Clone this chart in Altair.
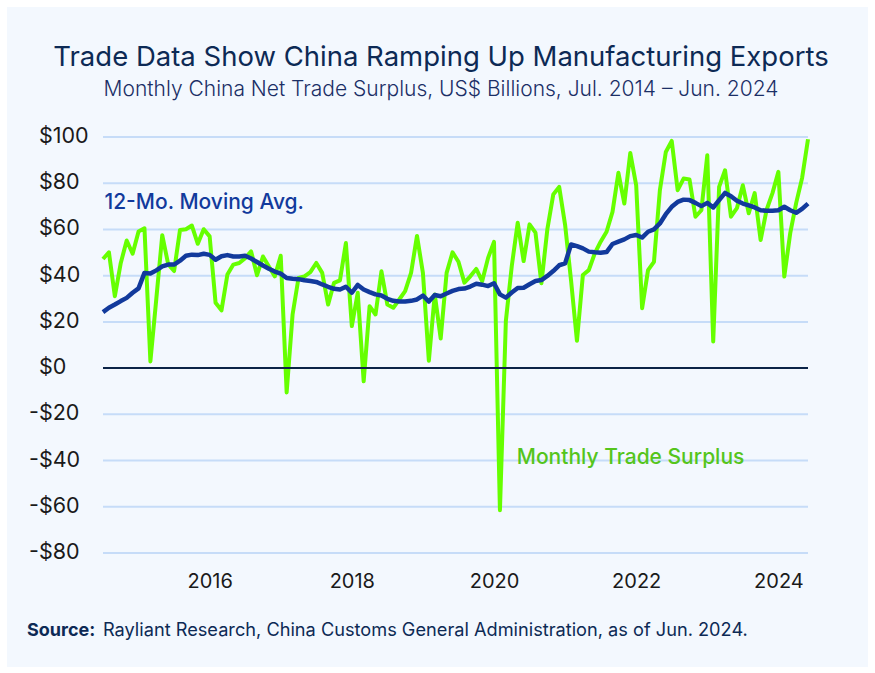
import altair as alt
import pandas as pd

# ---------------- data ----------------
dates = pd.date_range("2014-07-01", "2024-06-01", freq="MS")

surplus = [
    47.2, 50.1, 31.1, 45.5, 55.2, 49.5,                                   # 2014 H2
    59.1, 60.5, 2.9, 30.0, 57.5, 45.0, 42.0, 59.8, 60.1, 61.7, 53.8, 60.1,  # 2015
    57.0, 28.3, 25.0, 40.5, 44.8, 45.5, 47.6, 50.5, 40.2, 48.3, 44.0, 39.7,  # 2016
    48.6, -10.5, 23.2, 39.0, 39.7, 41.5, 45.5, 41.2, 27.5, 36.9, 38.0, 54.1,  # 2017
    18.2, 32.6, -5.7, 26.8, 23.2, 41.9, 27.5, 26.1, 29.7, 33.3, 41.2, 57.2,  # 2018
    41.2, 3.2, 31.9, 12.8, 41.2, 50.1, 46.0, 37.0, 39.7, 42.9, 37.6, 47.7,   # 2019
    54.6, -61.5, 20.4, 44.2, 62.9, 46.3, 62.2, 58.6, 36.7, 60.0, 75.1, 78.4,  # 2020
    62.0, 38.0, 11.8, 40.3, 42.4, 49.6, 54.7, 59.0, 67.6, 84.5, 71.2, 93.1,  # 2021
    79.1, 25.9, 42.4, 46.0, 77.0, 93.5, 98.3, 77.0, 82.0, 81.6, 65.5, 68.3,  # 2022
    92.1, 11.5, 78.4, 85.6, 65.5, 69.2, 79.1, 67.0, 75.7, 55.4, 68.4, 75.7,  # 2023
    84.9, 39.6, 58.4, 71.4, 82.2, 99.0,                                     # 2024 H1
]

moving_avg = [
    24.2, 26.1, 27.5, 29.0, 30.4, 32.6,
    34.5, 41.2, 40.9, 42.3, 44.0, 44.8, 44.8, 46.5, 48.6, 49.1, 48.9, 49.5,
    49.0, 46.9, 48.4, 48.9, 48.3, 48.3, 48.6, 47.4, 45.9, 44.4, 43.0, 41.8,
    40.9, 39.0, 38.7, 38.5, 38.0, 37.7, 37.3, 36.2, 35.2, 34.3, 34.0, 35.2,
    32.6, 36.0, 34.0, 32.9, 31.9, 31.4, 30.0, 29.1, 28.8, 28.8, 29.1, 29.7,
    31.4, 28.8, 31.6, 31.1, 32.3, 33.4, 34.2, 34.4, 35.3, 36.5, 36.1, 35.5,
    36.7, 31.9, 30.5, 32.7, 34.7, 34.8, 36.3, 37.7, 38.1, 39.9, 42.0, 44.5,
    45.3, 53.5, 52.8, 51.8, 50.4, 50.1, 49.9, 50.2, 53.7, 54.7, 55.7, 57.1,
    57.6, 56.5, 59.0, 60.0, 62.6, 66.6, 69.8, 71.9, 72.9, 72.7, 71.5, 70.1,
    71.5, 69.5, 72.7, 75.8, 74.4, 72.4, 71.2, 70.4, 69.5, 68.3, 68.1, 68.1,
    68.3, 69.8, 68.3, 67.2, 68.9, 71.2,
]

x_ticks = [2016, 2018, 2020, 2022, 2024]
y_ticks = [100, 80, 60, 40, 20, 0, -20, -40, -60, -80]
y_tick_labels = ["$100", "$80", "$60", "$40", "$20", "$0", "-$20", "-$40", "-$60", "-$80"]

title_text = "Trade Data Show China Ramping Up Manufacturing Exports"
subtitle_text = "Monthly China Net Trade Surplus, US$ Billions, Jul. 2014 \u2013 Jun. 2024"
source_bold = "Source:"
source_text = "Rayliant Research, China Customs General Administration, as of Jun. 2024."
ma_label = "12-Mo. Moving Avg."
surplus_label = "Monthly Trade Surplus"

# ---------------- build ----------------
t = [d.year + (d.month - 1) / 12 for d in dates]
df = pd.DataFrame({"t": t, "surplus": surplus, "ma": moving_avg})

W, H = 705, 416
FONT = "Inter"
GREEN = "#66ff00"
GREEN_TXT = "#55c51c"
BLUE = "#123a9c"
NAVY = "#0d2a55"

xscale = alt.Scale(domain=[t[0], t[-1]], nice=False, zero=False)
yscale = alt.Scale(domain=[-80, 100], nice=False, zero=False)

one = alt.Data(values=[{}])

panel = alt.Chart(one).mark_rect(color="#f3f8fe").encode(
    x=alt.value(-96), x2=alt.value(765), y=alt.value(-130), y2=alt.value(530)
)

grid_df = pd.DataFrame({"v": [v for v in y_ticks if v != 0]})
grid = alt.Chart(grid_df).mark_rule(color="#c6dcf8", strokeWidth=2).encode(
    y=alt.Y("v:Q", scale=yscale, axis=None)
)

green = alt.Chart(df).mark_line(color=GREEN, strokeWidth=4, strokeJoin="round").encode(
    x=alt.X("t:Q", scale=xscale,
            axis=alt.Axis(values=x_ticks, format="d", title=None, grid=False, ticks=False,
                          tickSize=0, domain=False, labelFont=FONT, labelFontSize=20,
                          labelColor="#1a1a1a", labelPadding=18, zindex=2)),
    y=alt.Y("surplus:Q", scale=yscale, axis=None),
)

zero = alt.Chart(alt.Data(values=[{"v": 0}])).mark_rule(color="#0b2447", strokeWidth=2).encode(
    y=alt.Y("v:Q", scale=yscale)
)

blue = alt.Chart(df).mark_line(color=BLUE, strokeWidth=4.5, strokeJoin="round").encode(
    x=alt.X("t:Q", scale=xscale),
    y=alt.Y("ma:Q", scale=yscale),
)

ann = pd.DataFrame({
    "t": [2014.52, 2020.32],
    "v": [71.5, -38.9],
    "lab": [ma_label, surplus_label],
    "c": [BLUE, GREEN_TXT],
})
ann_layer = alt.Chart(ann).mark_text(align="left", baseline="middle", font=FONT,
                                     fontSize=21, fontWeight=500).encode(
    x=alt.X("t:Q", scale=xscale),
    y=alt.Y("v:Q", scale=yscale),
    text="lab:N",
    color=alt.Color("c:N", scale=None),
)

ylab_df = pd.DataFrame({"v": y_ticks, "lab": y_tick_labels})
ylab_pos = alt.Chart(ylab_df).transform_filter("datum.v >= 0").mark_text(
    align="left", baseline="middle", font=FONT, fontSize=21.5, color="#1a1a1a"
).encode(x=alt.value(-64), y=alt.Y("v:Q", scale=yscale), text="lab:N")
ylab_neg = alt.Chart(ylab_df).transform_filter("datum.v < 0").mark_text(
    align="left", baseline="middle", font=FONT, fontSize=21.5, color="#1a1a1a"
).encode(x=alt.value(-74), y=alt.Y("v:Q", scale=yscale), text="lab:N")

title = alt.Chart(one).mark_text(align="center", baseline="middle", font=FONT, fontSize=27.5,
                                 color=NAVY).encode(
    x=alt.value(338), y=alt.value(-79), text=alt.value(title_text))
subtitle = alt.Chart(one).mark_text(align="center", baseline="middle", font=FONT, fontSize=21,
                                    fontWeight=300, color="#1b2f66").encode(
    x=alt.value(338), y=alt.value(-47), text=alt.value(subtitle_text))
src1 = alt.Chart(one).mark_text(align="left", baseline="middle", font=FONT, fontSize=18,
                                fontWeight="bold", color=NAVY).encode(
    x=alt.value(-76), y=alt.value(494), text=alt.value(source_bold))
src2 = alt.Chart(one).mark_text(align="left", baseline="middle", font=FONT, fontSize=18.2,
                                color=NAVY).encode(
    x=alt.value(0), y=alt.value(494), text=alt.value(source_text))

chart = alt.layer(
    panel, grid, green, zero, blue, ann_layer, ylab_pos, ylab_neg, title, subtitle, src1, src2
).properties(
    width=W, height=H,
    padding={"left": 103, "top": 137, "right": 67, "bottom": 120},
    autosize=alt.AutoSizeParams(type="none"),
    background="white",
).configure_view(strokeWidth=0)

chart.save("out.html", embed_options={"renderer": "svg", "actions": False})
